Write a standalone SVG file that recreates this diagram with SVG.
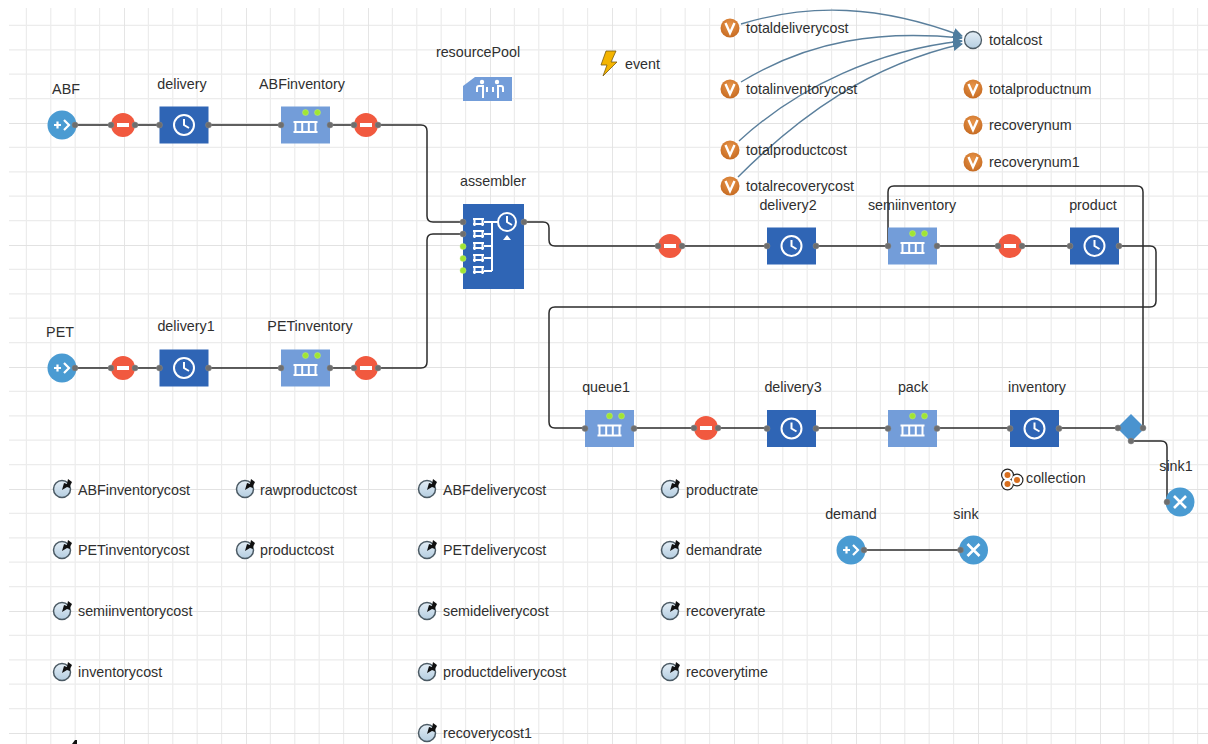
<svg xmlns="http://www.w3.org/2000/svg" width="1208" height="744" viewBox="0 0 1208 744">
<style>
text{font-family:"Liberation Sans",Arial,sans-serif;font-size:14.3px;fill:#2f2f2f}
.m{text-anchor:middle}
.c{fill:none;stroke:#2b2b2b;stroke-width:1.5;stroke-linejoin:round}
.a{fill:none;stroke:#5a7f9c;stroke-width:1.4;marker-end:url(#arr)}
.p{fill:#6e6e6e;stroke:#888;stroke-width:.5}
.w{fill:none;stroke:#fff;stroke-width:2}
.g{fill:#a0e632;stroke:#c0e880;stroke-width:.5}
</style>
<defs>
<pattern id="grid" patternUnits="userSpaceOnUse" x="2" y="1" width="122" height="122">
<path d="M24.4 0V122M48.8 0V122M73.2 0V122M97.6 0V122M0 24.4H122M0 48.8H122M0 73.2H122M0 97.6H122" stroke="#ececec" stroke-width="1.2" fill="none"/>
<path d="M0 0V122M0 0H122" stroke="#e2e2e2" stroke-width="1.8" fill="none"/>
</pattern>
<marker id="arr" viewBox="0 0 10 10" refX="9" refY="5" markerWidth="10" markerHeight="10" markerUnits="userSpaceOnUse" orient="auto"><path d="M0 0L10 5L0 10z" fill="#4f7d9f"/></marker>
<linearGradient id="ball" x1="0" y1="0" x2="0" y2="1"><stop offset="0" stop-color="#e4eef6"/><stop offset="1" stop-color="#b4cde0"/></linearGradient>
<radialGradient id="vg" cx=".5" cy=".35" r=".7"><stop offset="0" stop-color="#e8954a"/><stop offset="1" stop-color="#c4681f"/></radialGradient>
<g id="source"><circle r="14.5" fill="#4a9bd2"/><path d="M-8 0H-1M-4.500 -3.500V3.500" stroke="#fff" stroke-width="2.200"/><path d="M2 -5L7 0L2 5" fill="none" stroke="#fff" stroke-width="2.200"/><circle cx="13" r="3" class="p"/></g>
<g id="sink"><circle r="14.5" fill="#4a9bd2"/><path d="M-6 -6L6 6M-6 6L6 -6" stroke="#fff" stroke-width="2.600"/><circle cx="-13" r="3" class="p"/></g>
<g id="hold"><circle r="12" fill="#f1593f"/><rect x="-6" y="-2" width="12" height="4" fill="#fff"/><circle cx="-12" r="3" class="p"/><circle cx="12" r="3" class="p"/></g>
<g id="delay"><rect x="-24.500" y="-18.500" width="49" height="37" fill="#2f65b5"/><circle r="10" class="w"/><path d="M0 -6V0L5 3" class="w"/><circle cx="-24.500" r="3" class="p"/><circle cx="24.500" r="3" class="p"/></g>
<g id="queue"><rect x="-24.500" y="-18.500" width="49" height="37" fill="#739dd9"/><path d="M-12 -3H12M-12 7H12M-10 -3V7M-3.300 -3V7M3.300 -3V7M10 -3V7" class="w"/><circle cx="0" cy="-12.500" r="3" class="g"/><circle cx="12" cy="-12.500" r="3" class="g"/><circle cx="-24.500" r="3" class="p"/><circle cx="24.500" r="3" class="p"/></g>
<g id="var"><circle r="9.500" fill="url(#vg)"/><path d="M-4.500 -5L0 5L4.500 -5" fill="none" stroke="#fff" stroke-width="2.400"/></g>
<g id="param"><circle r="8.500" fill="url(#ball)" stroke="#4b5a64" stroke-width="1.500"/><path d="M0 1L2 -6L5 -5L6 -10L10 -7L8 -3L8 -1L5 -2z" fill="#111"/></g>
<g id="cell"><path class="w" stroke-width="1.500" d="M0 1H11M0 6H11M1.500 1V8M9.500 1V8"/></g>
</defs>
<rect width="1208" height="744" fill="#fff"/>
<rect x="9" y="8" width="1199" height="736" fill="url(#grid)"/>
<g id="connectors">
<path class="c" d="M75 125H160M208 125H281M330 125H421Q427 125 427 131V216Q427 222 433 222H463"/>
<path class="c" d="M75 368H160M208 368H281M330 368H421Q427 368 427 362V240Q427 234 433 234H463"/>
<path class="c" d="M524 222H543Q549 222 549 228V240Q549 246 555 246H767M816 246H888M937 246H1070"/>
<path class="c" d="M1119 246H1150Q1156 246 1156 252V301Q1156 307 1150 307H555Q549 307 549 313V422Q549 428 555 428H585"/>
<path class="c" d="M634 428H767M816 428H888M937 428H1010M1059 428H1118"/>
<path class="c" d="M1143 428V192Q1143 186 1137 186H894Q888 186 888 192V246"/>
<path class="c" d="M1131 441H1161Q1167 441 1167 447V501"/>
<path class="c" d="M864 550H960"/>
<path class="a" d="M741 24C810 3 880 5 962 36"/>
<path class="a" d="M741 82C810 40 880 30 962 38"/>
<path class="a" d="M739 141C800 85 880 50 962 41"/>
<path class="a" d="M738 177C800 115 870 65 962 44"/>
</g>
<g id="ABF"><use href="#source" x="62" y="125"/><text class="m" x="66" y="94">ABF</text></g>
<g id="hold1"><use href="#hold" x="123" y="125"/></g>
<g id="delivery"><use href="#delay" x="184" y="125"/><text class="m" x="182" y="89">delivery</text></g>
<g id="ABFinventory"><use href="#queue" x="305.500" y="125"/><text class="m" x="302" y="89">ABFinventory</text></g>
<g id="hold2"><use href="#hold" x="366" y="125"/></g>
<g id="PET"><use href="#source" x="62" y="368"/><text class="m" x="60" y="337">PET</text></g>
<g id="hold3"><use href="#hold" x="123" y="368"/></g>
<g id="delivery1"><use href="#delay" x="184" y="368"/><text class="m" x="186" y="331">delivery1</text></g>
<g id="PETinventory"><use href="#queue" x="305.500" y="368"/><text class="m" x="310" y="331">PETinventory</text></g>
<g id="hold4"><use href="#hold" x="366" y="368"/></g>
<g id="assembler"><rect x="463" y="204" width="61" height="85" fill="#2f65b5"/>
<use href="#cell" x="473" y="218"/><use href="#cell" x="473" y="230"/><use href="#cell" x="473" y="242"/><use href="#cell" x="473" y="254"/><use href="#cell" x="473" y="266"/>
<path class="w" stroke-width="1.500" d="M484 222H498M492 222V271M484 234H492M484 246H492M484 258H492M484 271H492"/>
<circle cx="507" cy="222" r="9" fill="#2f65b5" stroke="#fff" stroke-width="2"/><path class="w" d="M507 216V222L512 225"/><path d="M503 240L507 235L511 240z" fill="#fff"/>
<circle class="p" cx="463" cy="222" r="3"/><circle class="p" cx="463" cy="234" r="3"/><circle class="g" cx="463" cy="246.500" r="3"/><circle class="g" cx="463" cy="258.500" r="3"/><circle class="g" cx="463" cy="270.500" r="3"/><circle class="p" cx="524" cy="222" r="3"/>
<text class="m" x="493" y="186">assembler</text></g>
<g id="hold5"><use href="#hold" x="670" y="246"/></g>
<g id="delivery2"><use href="#delay" x="791.500" y="246"/><text class="m" x="788" y="210">delivery2</text></g>
<g id="semiinventory"><use href="#queue" x="912.500" y="246"/><text class="m" x="912" y="210">semiinventory</text></g>
<g id="hold6"><use href="#hold" x="1010" y="246"/></g>
<g id="product"><use href="#delay" x="1094.500" y="246"/><text class="m" x="1093" y="210">product</text></g>
<g id="queue1"><use href="#queue" x="609.500" y="428.500"/><text class="m" x="606" y="392">queue1</text></g>
<g id="hold7"><use href="#hold" x="706" y="428"/></g>
<g id="delivery3"><use href="#delay" x="791.500" y="428.500"/><text class="m" x="793" y="392">delivery3</text></g>
<g id="pack"><use href="#queue" x="912.500" y="428.500"/><text class="m" x="913" y="392">pack</text></g>
<g id="inventory"><use href="#delay" x="1034.500" y="428.500"/><text class="m" x="1037" y="392">inventory</text></g>
<g id="select"><path d="M1131 414L1145 428L1131 442L1117 428z" fill="#4a93cf"/><circle class="p" cx="1118" cy="428" r="3"/><circle class="p" cx="1143" cy="428" r="3"/><circle class="p" cx="1131" cy="441" r="3"/></g>
<g id="sink1"><use href="#sink" x="1180" y="502"/><text class="m" x="1176" y="471">sink1</text></g>
<g id="collection"><circle cx="1007.500" cy="475" r="6.500" fill="#222"/><circle cx="1007.500" cy="484" r="6.500" fill="#222"/><circle cx="1017" cy="480" r="6.500" fill="#222"/><circle cx="1007.500" cy="475" r="5.300" fill="#fff"/><circle cx="1007.500" cy="484" r="5.300" fill="#fff"/><circle cx="1017" cy="480" r="5.300" fill="#fff"/><circle cx="1007.500" cy="475" r="3" fill="#d86f1f"/><circle cx="1007.500" cy="484" r="3" fill="#d86f1f"/><circle cx="1017" cy="480" r="3" fill="#d86f1f"/><text x="1026" y="483">collection</text></g>
<g id="demand"><use href="#source" x="851" y="550"/><text class="m" x="851" y="519">demand</text></g>
<g id="sink2"><use href="#sink" x="973.500" y="550"/><text class="m" x="966" y="519">sink</text></g>
<g id="resourcePool"><path d="M475 77H512V101H463V86z" fill="#739dd9"/><g fill="none" stroke="#fff" stroke-width="2"><path d="M477 92V88Q477 86 479 86H483V98"/><path d="M503 92V88Q503 86 501 86H498V98"/><path d="M487 92V87M493 92V87"/></g><circle cx="482" cy="82" r="2.200" fill="#fff"/><circle cx="497" cy="82" r="2.200" fill="#fff"/><text class="m" x="478" y="57">resourcePool</text></g>
<g id="event"><path d="M606 51L616 51L611 62L617 62L603 76L607 65L601 65z" fill="#f4b400" stroke="#7a5a10" stroke-width=".8"/><text x="625" y="69">event</text></g>
<g id="totalcost"><circle cx="973" cy="40" r="8.500" fill="url(#ball)" stroke="#4b5a64" stroke-width="1.300"/><text x="989" y="45">totalcost</text></g>
<g id="totaldeliverycost"><use href="#var" x="730" y="28"/><text x="746" y="33">totaldeliverycost</text></g>
<g id="totalinventorycost"><use href="#var" x="730" y="89"/><text x="746" y="94">totalinventorycost</text></g>
<g id="totalproductcost"><use href="#var" x="730" y="150"/><text x="746" y="155">totalproductcost</text></g>
<g id="totalrecoverycost"><use href="#var" x="730" y="186"/><text x="746" y="191">totalrecoverycost</text></g>
<g id="totalproductnum"><use href="#var" x="973" y="89"/><text x="989" y="94">totalproductnum</text></g>
<g id="recoverynum"><use href="#var" x="973" y="125"/><text x="989" y="130">recoverynum</text></g>
<g id="recoverynum1"><use href="#var" x="973" y="162"/><text x="989" y="167">recoverynum1</text></g>
<g id="ABFinventorycost"><use href="#param" x="62" y="489"/><text x="78" y="495">ABFinventorycost</text></g>
<g id="PETinventorycost"><use href="#param" x="62" y="550"/><text x="78" y="555">PETinventorycost</text></g>
<g id="semiinventorycost"><use href="#param" x="62" y="611"/><text x="78" y="616">semiinventorycost</text></g>
<g id="inventorycost"><use href="#param" x="62" y="672"/><text x="78" y="677">inventorycost</text></g>
<g id="partial"><path d="M72 744L75 740L77 740L77 744z" fill="#111"/></g>
<g id="rawproductcost"><use href="#param" x="245" y="489"/><text x="260" y="495">rawproductcost</text></g>
<g id="productcost"><use href="#param" x="245" y="550"/><text x="260" y="555">productcost</text></g>
<g id="ABFdeliverycost"><use href="#param" x="427" y="489"/><text x="443" y="495">ABFdeliverycost</text></g>
<g id="PETdeliverycost"><use href="#param" x="427" y="550"/><text x="443" y="555">PETdeliverycost</text></g>
<g id="semideliverycost"><use href="#param" x="427" y="611"/><text x="443" y="616">semideliverycost</text></g>
<g id="productdeliverycost"><use href="#param" x="427" y="672"/><text x="443" y="677">productdeliverycost</text></g>
<g id="recoverycost1"><use href="#param" x="427" y="733"/><text x="443" y="738">recoverycost1</text></g>
<g id="productrate"><use href="#param" x="670" y="489"/><text x="686" y="495">productrate</text></g>
<g id="demandrate"><use href="#param" x="670" y="550"/><text x="686" y="555">demandrate</text></g>
<g id="recoveryrate"><use href="#param" x="670" y="611"/><text x="686" y="616">recoveryrate</text></g>
<g id="recoverytime"><use href="#param" x="670" y="672"/><text x="686" y="677">recoverytime</text></g>
</svg>
